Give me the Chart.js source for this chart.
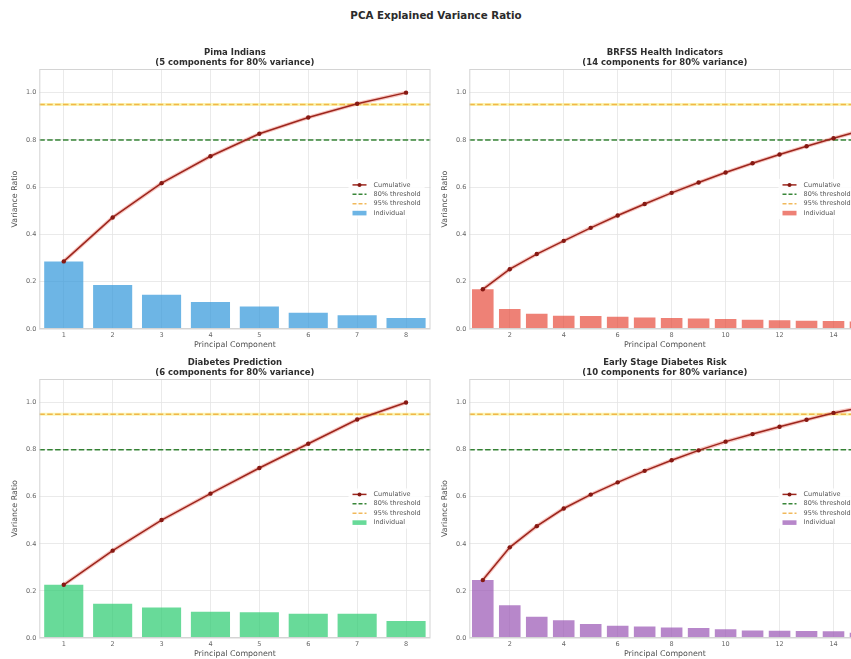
<!DOCTYPE html>
<html>
<head>
<meta charset="utf-8">
<title>PCA Explained Variance Ratio</title>
<script src="https://cdn.jsdelivr.net/npm/chart.js@4/dist/chart.umd.min.js"></script>
<style>
  html, body { margin: 0; padding: 0; background: #fff; overflow: hidden; width: 851px; height: 659px; }
  #fig { position: relative; width: 900px; height: 659px; }
  .panel { position: absolute; }
  #suptitle {
    position: absolute; left: 236px; width: 400px; top: 9px; line-height: 12px;
    text-align: center; font: bold 10.3px "DejaVu Sans", sans-serif; color: #2b2b2b;
  }
</style>
</head>
<body>
<div id="fig">
  <div id="suptitle">PCA Explained Variance Ratio</div>
  <canvas id="c0" class="panel" width="436" height="350" style="left:0;top:0;width:436px;height:350px"></canvas>
  <canvas id="c1" class="panel" width="464" height="350" style="left:436px;top:0;width:464px;height:350px"></canvas>
  <canvas id="c2" class="panel" width="436" height="309" style="left:0;top:350px;width:436px;height:309px"></canvas>
  <canvas id="c3" class="panel" width="464" height="309" style="left:436px;top:350px;width:464px;height:309px"></canvas>
</div>
<script>
// ---- data ----
const pimaComponents = [1, 2, 3, 4, 5, 6, 7, 8];
const pimaIndividual = [0.286, 0.186, 0.145, 0.114, 0.095, 0.069, 0.058, 0.047];
const pimaCumulative = [0.286, 0.472, 0.617, 0.731, 0.826, 0.895, 0.953, 1.000];

const brfssComponents = [1, 2, 3, 4, 5, 6, 7, 8, 9, 10, 11, 12, 13, 14, 15];
const brfssIndividual = [0.168, 0.085, 0.064, 0.056, 0.055, 0.052, 0.049, 0.047, 0.044, 0.042, 0.039, 0.037, 0.035, 0.034, 0.032];
const brfssCumulative = [0.168, 0.253, 0.317, 0.373, 0.428, 0.480, 0.529, 0.576, 0.620, 0.662, 0.701, 0.738, 0.773, 0.807, 0.839];

const predComponents = [1, 2, 3, 4, 5, 6, 7, 8];
const predIndividual = [0.226, 0.145, 0.130, 0.112, 0.109, 0.103, 0.103, 0.072];
const predCumulative = [0.226, 0.371, 0.501, 0.613, 0.722, 0.825, 0.928, 1.000];

const earlyComponents = [1, 2, 3, 4, 5, 6, 7, 8, 9, 10, 11, 12, 13, 14, 15];
const earlyIndividual = [0.246, 0.139, 0.090, 0.075, 0.059, 0.052, 0.049, 0.045, 0.042, 0.037, 0.032, 0.031, 0.030, 0.029, 0.022];
const earlyCumulative = [0.246, 0.385, 0.475, 0.550, 0.609, 0.661, 0.710, 0.755, 0.797, 0.834, 0.866, 0.897, 0.927, 0.956, 0.978];

const threshold80 = 0.80;
const threshold95 = 0.95;

const yTicks = [0.0, 0.2, 0.4, 0.6, 0.8, 1.0];
const xTicksShort = [1, 2, 3, 4, 5, 6, 7, 8];
const xTicksLong = [2, 4, 6, 8, 10, 12, 14];

const legendLabels = ['Cumulative', '80% threshold', '95% threshold', 'Individual'];

// ---- styling ----
Chart.defaults.font.family = '"DejaVu Sans", sans-serif';
const FONT = '"DejaVu Sans", sans-serif';
const CUM_COLOR = '#9c261d';
const CUM_HALO = 'rgba(231, 76, 60, 0.32)';
const MARKER_COLOR = '#861913';
const GREEN = 'rgba(0, 100, 0, 0.78)';
const ORANGE = 'rgba(238, 168, 50, 0.8)';
const YELLOW_HALO = 'rgba(248, 238, 130, 0.6)';
const DASH = [5.5, 2.4];
const TICK_COLOR = '#666';

// Titles, axis labels, frame and an in-axes legend ("center right")
const panelDeco = {
  id: 'panelDeco',
  afterDraw(chart, args, o) {
    const { ctx, chartArea: a } = chart;
    const cx = (a.left + a.right) / 2;
    const cy = (a.top + a.bottom) / 2;
    ctx.save();

    // frame
    ctx.strokeStyle = '#d4d4d4';
    ctx.lineWidth = 1;
    ctx.strokeRect(a.left + 0.5, a.top + 0.5, a.right - a.left - 1, a.bottom - a.top - 1);

    // subplot title (two lines)
    ctx.fillStyle = '#2e2e2e';
    ctx.textAlign = 'center';
    ctx.textBaseline = 'middle';
    ctx.font = 'bold 8.5px ' + FONT;
    ctx.fillText(o.title[0], cx, a.top - 16.7);
    ctx.fillText(o.title[1], cx, a.top - 6.7);

    // axis titles
    ctx.fillStyle = '#505050';
    ctx.font = '7.9px ' + FONT;
    ctx.fillText('Principal Component', cx, a.bottom + 15.5);
    ctx.save();
    ctx.translate(a.left - 24, cy);
    ctx.rotate(-Math.PI / 2);
    ctx.fillText('Variance Ratio', 0, 0);
    ctx.restore();

    // legend
    ctx.font = '6.5px ' + FONT;
    const hx = a.right - 78;
    const tx = hx + 21;
    let maxW = 0;
    legendLabels.forEach(l => { maxW = Math.max(maxW, ctx.measureText(l).width); });
    const rowH = 9.4;
    ctx.fillStyle = 'rgba(255,255,255,0.85)';
    ctx.fillRect(hx - 4, cy - 1.5 * rowH - 6, tx + maxW + 4 - (hx - 4), 3 * rowH + 12);

    legendLabels.forEach((label, i) => {
      const y = cy + (i - 1.5) * rowH;
      ctx.setLineDash([]);
      if (i === 0) {
        ctx.strokeStyle = CUM_COLOR; ctx.lineWidth = 1.5;
        ctx.beginPath(); ctx.moveTo(hx, y); ctx.lineTo(hx + 14, y); ctx.stroke();
        ctx.fillStyle = MARKER_COLOR;
        ctx.beginPath(); ctx.arc(hx + 7, y, 2, 0, Math.PI * 2); ctx.fill();
      } else if (i === 1 || i === 2) {
        ctx.strokeStyle = i === 1 ? GREEN : ORANGE; ctx.lineWidth = 1.5;
        ctx.setLineDash([4, 2]);
        ctx.beginPath(); ctx.moveTo(hx, y); ctx.lineTo(hx + 14, y); ctx.stroke();
        ctx.setLineDash([]);
      } else {
        ctx.fillStyle = o.barColor;
        ctx.fillRect(hx, y - 2.3, 14, 4.6);
      }
      ctx.fillStyle = '#555';
      ctx.textAlign = 'left';
      ctx.fillText(label, tx, y);
    });
    ctx.restore();
  }
};

function xy(xs, ys) { return xs.map((x, i) => ({ x: x, y: ys[i] })); }

function makePanel(id, cfg) {
  const c = document.getElementById(id);
  const ds = [
    {
      type: 'bar', data: xy(cfg.comp, cfg.ind), backgroundColor: cfg.barColor,
      barPercentage: 1.0, categoryPercentage: 0.8, borderWidth: 0, order: 5
    },
    {
      type: 'line', data: [{ x: cfg.xMin, y: threshold95 }, { x: cfg.xMax, y: threshold95 }],
      borderColor: YELLOW_HALO, borderWidth: 3, pointRadius: 0, order: 4
    },
    {
      type: 'line', data: [{ x: cfg.xMin, y: threshold80 }, { x: cfg.xMax, y: threshold80 }],
      borderColor: GREEN, borderWidth: 1.5, borderDash: DASH, pointRadius: 0, order: 3
    },
    {
      type: 'line', data: [{ x: cfg.xMin, y: threshold95 }, { x: cfg.xMax, y: threshold95 }],
      borderColor: ORANGE, borderWidth: 1.5, borderDash: DASH, pointRadius: 0, order: 3
    },
    {
      type: 'line', data: xy(cfg.comp, cfg.cum), borderColor: CUM_HALO, borderWidth: 3.8,
      pointRadius: 0, tension: 0, order: 2
    },
    {
      type: 'line', data: xy(cfg.comp, cfg.cum), borderColor: CUM_COLOR, borderWidth: 1.5,
      pointRadius: 2.2, pointBackgroundColor: MARKER_COLOR, pointBorderWidth: 0,
      tension: 0, order: 1
    }
  ];
  return new Chart(c, {
    type: 'bar',
    data: { datasets: ds },
    options: {
      responsive: false,
      animation: false,
      events: [],
      layout: { padding: { top: cfg.padTop, right: cfg.padRight, left: 0, bottom: 0 } },
      plugins: {
        legend: { display: false },
        tooltip: { enabled: false },
        panelDeco: { title: cfg.title, barColor: cfg.barColor }
      },
      scales: {
        x: {
          type: 'linear', min: cfg.xMin, max: cfg.xMax, offset: false,
          afterBuildTicks: s => { s.ticks = cfg.xTicks.map(v => ({ value: v })); },
          afterFit: s => { s.height = cfg.xAxisH; },
          ticks: { autoSkip: false, maxRotation: 0, padding: 2, color: TICK_COLOR, font: { size: 6.5 } },
          grid: { offset: false, color: '#e4e4e4', lineWidth: 0.8, drawTicks: false },
          border: { display: false }
        },
        y: {
          min: 0, max: 1.1,
          afterBuildTicks: s => { s.ticks = yTicks.map(v => ({ value: v })); },
          afterFit: s => { s.width = cfg.yAxisW; },
          ticks: { padding: 3, color: TICK_COLOR, font: { size: 6.5 }, callback: v => Number(v).toFixed(1) },
          grid: { color: '#e4e4e4', lineWidth: 0.8, drawTicks: false },
          border: { display: false }
        }
      }
    },
    plugins: [panelDeco]
  });
}

makePanel('c0', {
  comp: pimaComponents, ind: pimaIndividual, cum: pimaCumulative,
  barColor: 'rgba(52, 152, 219, 0.72)', title: ['Pima Indians', '(5 components for 80% variance)'],
  xMin: 0.5, xMax: 8.5, xTicks: xTicksShort, padTop: 69, padRight: 5.5, yAxisW: 39.3, xAxisH: 21
});
makePanel('c1', {
  comp: brfssComponents, ind: brfssIndividual, cum: brfssCumulative,
  barColor: 'rgba(231, 76, 60, 0.7)', title: ['BRFSS Health Indicators', '(14 components for 80% variance)'],
  xMin: 0.5, xMax: 15, xTicks: xTicksLong, padTop: 69, padRight: 39.5, yAxisW: 33.3, xAxisH: 21
});
makePanel('c2', {
  comp: predComponents, ind: predIndividual, cum: predCumulative,
  barColor: 'rgba(46, 204, 113, 0.72)', title: ['Diabetes Prediction', '(6 components for 80% variance)'],
  xMin: 0.5, xMax: 8.5, xTicks: xTicksShort, padTop: 29, padRight: 5.5, yAxisW: 39.3, xAxisH: 21
});
makePanel('c3', {
  comp: earlyComponents, ind: earlyIndividual, cum: earlyCumulative,
  barColor: 'rgba(155, 89, 182, 0.72)', title: ['Early Stage Diabetes Risk', '(10 components for 80% variance)'],
  xMin: 0.5, xMax: 15, xTicks: xTicksLong, padTop: 29, padRight: 39.5, yAxisW: 33.3, xAxisH: 21
});
</script>
</body>
</html>
